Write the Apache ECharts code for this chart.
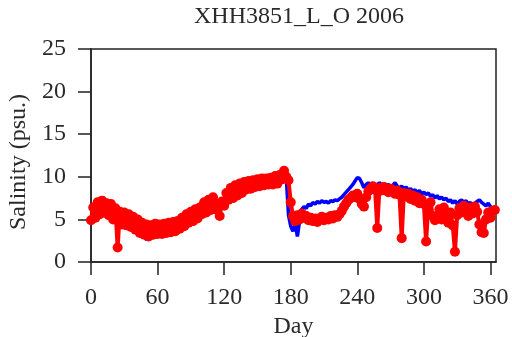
<!DOCTYPE html>
<html>
<head>
<meta charset="utf-8">
<script src="https://cdn.jsdelivr.net/npm/echarts@6/dist/echarts.min.js"></script>
<style>html,body{margin:0;padding:0;background:#fff;}#c{width:512px;height:337px;}</style>
</head>
<body>
<div id="c"></div>
<script>
const titleText = 'XHH3851_L_O 2006';
const xName = 'Day';
const yName = 'Salinity (psu.)';
const xTicks = [0, 60, 120, 180, 240, 300, 360];
const yTicks = [0, 5, 10, 15, 20, 25];

const days = [0,2,4,6,8,10,12,14,16,18,20,22,24,26,28,30,32,34,36,38,40,42,44,46,48,50,52,54,56,58,
60,62,64,66,68,70,72,74,76,78,80,82,84,86,88,90,92,94,96,98,100,102,104,106,108,110,112,114,116,118,
120,122,124,126,128,130,132,134,136,138,140,142,144,146,148,150,152,154,156,158,160,162,164,166,168,170,172,174,176,178,
180,182,184,186,188,190,192,194,196,198,200,202,204,206,208,210,212,214,216,218,220,222,224,226,228,230,232,234,236,238,
240,242,244,246,248,250,252,254,256,258,260,262,264,266,268,270,272,274,276,278,280,282,284,286,288,290,292,294,296,298,
300,302,304,306,308,310,312,314,316,318,320,322,324,326,328,330,332,334,336,338,340,342,344,346,348,350,352,354,356,358,
360,362,364];

const blueVals = [5.0,4.6,5.8,6.2,5.5,6.4,6.0,5.4,6.1,5.8,5.2,5.6,4.8,5.0,4.5,5.1,4.7,4.9,4.3,4.7,4.0,4.4,3.5,4.0,3.1,2.6,3.2,3.8,3.4,3.9,
3.5,3.9,3.5,3.8,3.6,4.0,3.7,4.2,3.9,4.3,4.5,4.7,4.5,5.0,5.2,5.3,5.4,5.6,5.7,6.0,6.3,6.4,6.6,6.9,6.8,7.2,7.0,6.7,6.4,6.9,
7.4,7.7,8.0,8.3,8.2,8.6,8.5,8.8,8.7,9.0,9.2,9.0,9.3,9.1,9.4,9.3,9.5,9.4,9.6,9.5,9.7,9.6,9.7,9.9,9.8,10.0,10.2,10.3,9.8,5.5,
4.2,3.6,4.5,3.0,4.8,6.2,6.5,6.3,6.8,6.6,7.0,6.8,7.1,6.9,7.2,7.0,7.1,6.9,7.2,7.1,7.3,7.2,7.4,7.6,7.9,8.2,8.5,8.8,9.1,9.5,
9.9,9.8,9.3,8.7,9.1,9.3,9.0,9.2,8.9,9.1,9.3,9.0,9.2,8.9,9.1,8.8,9.0,9.3,8.9,8.7,8.9,8.6,8.8,8.4,8.6,8.3,8.5,8.1,8.4,8.0,
8.2,7.9,8.1,7.7,7.9,7.5,7.8,7.4,7.6,7.3,7.5,7.1,7.3,6.9,7.2,6.8,7.1,7.3,7.0,7.2,6.8,7.0,6.6,6.9,7.1,7.3,7.0,6.8,6.6,6.9,
6.5,6.3,6.4];

const redVals = [4.9,6.4,5.2,7.0,5.6,7.2,5.8,6.9,5.5,6.8,5.0,6.3,1.7,5.9,4.4,5.8,4.3,5.6,4.1,5.3,3.8,5.0,3.4,4.6,3.2,4.4,3.0,4.3,3.2,4.5,
3.3,4.4,3.3,4.5,3.4,4.6,3.5,4.7,3.6,4.8,3.9,5.2,4.2,5.6,4.6,5.9,4.8,6.2,5.1,6.4,5.6,7.0,5.8,7.3,6.1,7.6,6.2,6.8,5.4,7.1,
6.6,8.1,7.3,8.7,7.5,9.0,7.8,9.2,8.1,9.4,8.5,9.5,8.6,9.6,8.8,9.7,8.9,9.8,9.0,9.8,9.1,9.9,9.1,10.1,9.2,10.2,9.7,10.7,10.0,9.6,
7.0,5.4,4.8,5.5,5.0,5.7,5.2,5.4,4.9,5.2,4.8,5.1,4.7,5.0,5.3,4.9,5.2,5.0,5.4,5.1,5.5,5.3,5.6,6.0,6.5,6.9,7.3,7.5,7.8,7.6,
8.0,7.4,6.8,6.5,7.6,8.3,8.6,8.9,8.5,4.0,8.7,8.4,8.8,8.5,8.2,8.6,8.3,8.0,8.4,7.9,2.8,8.1,7.7,8.0,7.4,7.8,7.2,7.6,6.9,7.3,
6.8,2.4,6.6,7.0,5.4,4.9,5.3,6.2,5.0,6.4,5.6,4.6,5.8,4.3,1.2,5.5,6.3,5.8,6.6,6.0,5.4,6.4,5.7,6.5,5.9,4.4,3.5,3.4,5.0,5.8,
5.2,6.0,6.1];

const blueData = days.map((d, i) => [d, blueVals[i]]);
const redData = days.map((d, i) => [d, redVals[i]]);

const FONT = 'Liberation Serif';
const TXT = '#2a2a2a';
const chart = echarts.init(document.getElementById('c'), null, {renderer: 'canvas'});
chart.setOption({
  animation: false,
  backgroundColor: '#fff',
  title: {
    text: titleText,
    left: 299,
    top: 5,
    padding: 0,
    textAlign: 'center',
    textStyle: {fontFamily: FONT, fontSize: 24, fontWeight: 'normal', color: TXT}
  },
  grid: {
    left: 91, top: 49, right: 16, bottom: 75,
    outerBoundsMode: 'none', containLabel: false,
    show: true, borderColor: '#222', borderWidth: 1.5, backgroundColor: 'transparent'
  },
  xAxis: {
    type: 'value', min: 0, max: 365,
    name: xName, nameLocation: 'middle', nameGap: 49,
    nameTextStyle: {fontFamily: FONT, fontSize: 24, color: TXT},
    axisLine: {show: true, lineStyle: {color: '#222', width: 1.5}},
    axisTick: {show: true, length: 13, lineStyle: {color: '#222', width: 1.5}, customValues: xTicks},
    axisLabel: {fontFamily: FONT, fontSize: 24, color: TXT, margin: 24, customValues: xTicks},
    splitLine: {show: false}
  },
  yAxis: {
    type: 'value', min: 0, max: 25, interval: 5,
    name: yName, nameLocation: 'middle', nameGap: 52, nameRotate: 90,
    nameTextStyle: {fontFamily: FONT, fontSize: 24, color: TXT, padding: [0, 13, 0, 0]},
    axisLine: {show: true, lineStyle: {color: '#222', width: 1.5}},
    axisTick: {show: true, length: 13, lineStyle: {color: '#222', width: 1.5}},
    axisLabel: {fontFamily: FONT, fontSize: 24, color: TXT, margin: 25},
    splitLine: {show: false}
  },
  series: [
    {
      type: 'line', data: blueData, showSymbol: false,
      lineStyle: {color: '#0000ff', width: 3.5}, itemStyle: {color: '#0000ff'}
    },
    {
      type: 'line', data: redData, symbol: 'circle', symbolSize: 10, showAllSymbol: true,
      lineStyle: {color: '#ff0000', width: 4}, itemStyle: {color: '#ff0000'}
    }
  ]
});
</script>
</body>
</html>
